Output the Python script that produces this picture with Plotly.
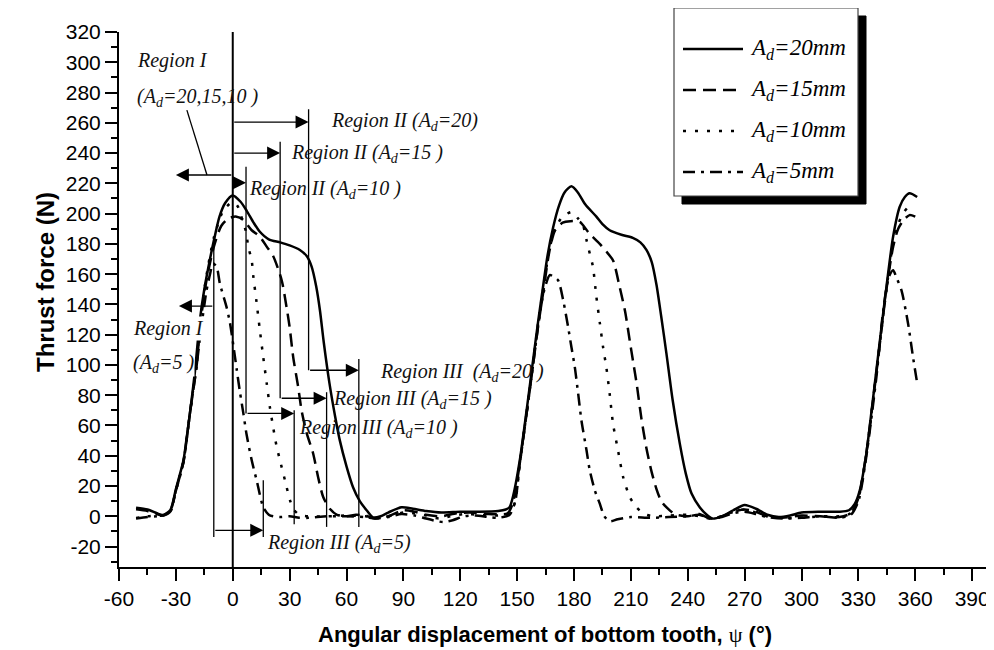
import plotly.graph_objects as go

# ---------------- data ----------------
x_tick_vals = [-60, -30, 0, 30, 60, 90, 120, 150, 180, 210, 240, 270, 300, 330, 360, 390]
x_tick_text = ["-60", "-30", "0", "30", "60", "90", "120", "150", "180", "210", "240",
               "270", "300", "330", "360", "390"]
y_tick_vals = [-20, 0, 20, 40, 60, 80, 100, 120, 140, 160, 180, 200, 220, 240, 260, 280, 300, 320]
y_tick_text = ["-20", "0", "20", "40", "60", "80", "100", "120", "140", "160", "180", "200",
               "220", "240", "260", "280", "300", "320"]

# A_d = 20 mm (solid)
x20 = [-51, -45, -40, -37, -33, -30, -26, -24.3, -22.6, -20, -17.3, -15, -12, -10, -7, -4, 0, 4,
       7.3, 11, 14.3, 19, 25, 30, 35.4, 39, 41.6, 44, 46, 48, 51, 54, 56.5, 60, 63.5, 67, 70.6,
       74, 78, 82, 89, 95, 102, 110, 120, 130, 140, 144, 146, 148, 151.4, 155, 158.4, 161,
       163.7, 166, 169, 172, 175, 178.6, 182, 186, 191.8, 195, 198.8, 205, 211, 215, 218.2,
       221, 223.5, 226, 228.7, 232, 235.8, 239, 242, 246.3, 250, 253, 258, 264, 270, 276, 282,
       288, 294, 300, 310, 320, 325, 328, 330.7, 334.2, 336.5, 339.5, 342, 344.8, 348.3, 351.8,
       354.5, 357, 361]
y20 = [5.7, 4.5, 2, 0.8, 4, 18, 37, 52, 68, 95, 130, 150, 170, 182, 198, 207, 212, 208,
       202, 194, 188, 183, 181, 179, 176, 172, 165, 152, 136, 115, 88, 66, 50, 33, 19, 10, 4,
       -0.7, 0, 2.5, 6, 5, 3.5, 2.5, 3, 3, 3.5, 4.5, 6, 14, 37, 70, 103, 128,
       152, 172, 191, 205, 214, 218, 214, 206, 198, 193, 189, 186, 184, 181, 176,
       168, 153, 132, 108, 77, 48, 28, 15, 6, 1, -1.5, 0, 4, 7.5, 5, 1,
       -0.5, 0.5, 2.5, 3, 3, 4, 8, 17, 41.6, 65, 96.5, 123, 151.6, 184.7, 204.5,
       211, 213.4, 211]

# A_d = 15 mm (dashed)
x15 = [-51, -45, -40, -37, -33, -30, -26, -22.6, -19, -17.3, -14, -10, -6, -2, 2, 5.4, 10, 14.3,
       18, 21.3, 25.8, 28.4, 30, 31.9, 34.5, 36.3, 39, 42.4, 45, 47.7, 51.2, 55, 60, 65, 70, 75,
       82, 90, 96, 102, 110, 118, 125, 135, 145, 148, 151.4, 155, 158.4, 161, 164, 167, 170,
       174, 178, 183, 188, 193.6, 197, 200.6, 204, 207, 209.4, 211.2, 213, 215.5, 218.2, 221,
       223.5, 226, 228.7, 233, 240, 246, 252, 258, 264, 270, 276, 282, 290, 300, 310, 320, 326,
       330, 334, 339.5, 344.8, 348.3, 351, 354, 357, 360]
y15 = [4.6, 3.5, 1.5, 0.5, 3.5, 17, 36, 68, 100, 125, 155, 178, 192, 197, 198, 196, 189, 184.7,
       178, 172, 156, 138, 125, 105, 85.5, 70, 55, 41.5, 26, 12.8, 5, 1, 0, 1, 0.5, -1.5,
       0, 4, 3, 1, 0, 2, 2.5, 1.5, 2, 10, 35, 68, 100, 125, 150, 175, 189,
       194, 195, 194.6, 187, 180, 175, 169, 152, 135, 116, 102, 88, 65, 45, 29,
       18, 10, 6, 1.5, 0, 1.5, -1.5, 0, 3, 4.5, 3, 0, -1, 0.5, 0, -0.5, 2,
       12, 40, 95, 150, 178, 190, 196, 199, 198]

# A_d = 10 mm (dotted)
x10 = [-51, -45, -40, -37, -33, -30, -26, -22.6, -19, -17.3, -14, -10, -5, -1, 1.2, 3, 5, 7, 8.2,
       10, 10.8, 12.6, 14.3, 16.1, 17.9, 19.6, 21.3, 23, 24.9, 27.5, 30.2, 31.9, 35, 40, 50, 60,
       70, 75, 82, 90, 96, 102, 109, 115, 122, 130, 140, 146, 149, 151.4, 155, 158.4, 161, 164,
       167, 170, 174, 178.9, 182, 184.7, 186.6, 188.3, 190, 191.8, 193.6, 195.3, 197.1, 198.8,
       200.6, 203.2, 205.9, 209.4, 212.9, 217, 222, 230, 240, 246, 252, 258, 264, 270, 276, 282,
       290, 300, 310, 320, 326, 330, 334, 339.5, 344.8, 348, 351, 353.5, 356, 359]
y10 = [-1.1, 0, 0.5, 0.5, 3, 17, 36, 68, 102, 127, 158, 184, 202, 207, 207, 204, 196, 188, 178,
       169, 159, 141, 123, 105, 88, 72, 59, 47, 37, 24, 10.6, 5, 1, 0, 0, 0.5,
       0, -1, 0, 2.5, 2, 0.5, -1.5, 0, 1.5, 1, 0.5, 2, 10, 35, 68, 101, 127, 152,
       176, 190, 198, 201, 197, 192.4, 182.5, 173.7, 164.8, 145, 128, 112, 98, 81,
       61, 43.6, 26, 12.8, 6, 1.5, 0, 0.5, 1, 0, -1.5, 0, 3, 4.5, 2.5, 0,
       -1, -1, 0, 0, 2, 12, 40, 95, 150, 178, 193, 200, 204, 206.7]

# A_d = 5 mm (dash-dot)
x5 = [-51, -45, -40, -37, -33, -30, -26, -22.6, -19, -17.3, -14, -12, -10.4, -8.5, -6.8, -3.3,
      -1.5, 0.3, 2.1, 3.8, 5.6, 7.3, 10, 12.6, 16.1, 19, 21.3, 25, 30, 35, 40, 50, 60, 70, 75,
      82, 89, 96, 102, 107, 111, 116, 122, 128, 135, 140, 146, 149, 151.4, 155, 158.4, 161, 164,
      167.2, 169, 171.6, 174.3, 176.9, 178.6, 180.4, 182.2, 183.9, 186.6, 188.3, 191, 193.6,
      196, 199, 203, 210, 220, 230, 240, 246, 252, 258, 264, 270, 276, 282, 290, 300, 310, 320,
      326, 330, 334, 339.5, 343, 346, 348.3, 350, 352.7, 356.2, 358.8, 360.9]
y5 = [-1.5, -0.5, 0, 0.3, 3, 17, 36, 68, 100, 118, 148, 160, 167, 164.8, 153.8, 138.4,
      128, 113, 97, 82, 68, 54, 37, 23.8, 6, 1, 0, -0.5, 0, -1, -1, 0, 0, -0.5, -1.5,
      -0.5, 1.5, 0.5, -1.5, -3, -3.8, -2.6, 0, 0.5, -0.5, -1, 1, 10, 35, 68, 100, 125, 148,
      159.4, 158.5, 156, 142.8, 125, 112, 98.7, 81, 63.5, 43.6, 30.4, 17, 8.4,
      0, -3.3, -2, -0.5, -1, -0.5, 0, 1, -1.5, -0.5, 2, 3, 1.5, -0.5, -1.5, -1, 0, -1,
      1, 10, 38, 92, 135, 158, 162.6, 158, 149.4, 127.4, 105.3, 88.8]

series_names = ["A<sub>d</sub>=20mm", "A<sub>d</sub>=15mm", "A<sub>d</sub>=10mm", "A<sub>d</sub>=5mm"]

# ---------------- layout constants ----------------
# the page places the figure 8px from the top-left corner of the window
OFF = 8
W, H = 994 - OFF, 650 - OFF
ML, MR, MT, MB = 119 - OFF, 1, 32 - OFF, 83
PW = W - ML - MR
PH = H - MT - MB
X_RANGE = [-60, 401]
Y_RANGE = [-33.5, 320]


def px(xp):
    """window pixel x -> paper fraction"""
    return (xp - OFF - ML) / PW


def py(yp):
    """window pixel y -> paper fraction"""
    return (H - MB - (yp - OFF)) / PH


dashes = ["solid", "13px,7px", "3px,9px", "12px,6px,3px,6px"]
xs = [x20, x15, x10, x5]
ys = [y20, y15, y10, y5]

fig = go.Figure()
for name, xv, yv, dash in zip(series_names, xs, ys, dashes):
    fig.add_trace(go.Scatter(x=xv, y=yv, mode="lines", name=name,
                             line=dict(color="black", width=2.5, dash=dash,
                                       shape="spline", smoothing=0.7),
                             showlegend=False, hoverinfo="skip"))

shapes = []
annotations = []
SERIF = "Liberation Serif"
SANS = "Liberation Sans"

# vertical reference line at psi = 0
shapes.append(dict(type="line", xref="x", yref="y", x0=0, x1=0, y0=Y_RANGE[0], y1=Y_RANGE[1],
                   line=dict(color="black", width=2)))

# thin vertical region boundary lines: (x, y_top, y_bottom)
vlines = [(40, 269, 96.5), (25, 247.5, 78), (7, 231, 68), (66.5, 104, -7), (49.5, 82, -7),
          (32.4, 70, -5.3), (-10, 181, -13.7), (16.1, 23.8, -13.7)]
for xv, y0, y1 in vlines:
    shapes.append(dict(type="line", xref="x", yref="y", x0=xv, x1=xv, y0=y0, y1=y1,
                       line=dict(color="black", width=1.3)))

# leader line of "Region I (Ad=20,15,10)"
shapes.append(dict(type="line", xref="x", yref="y", x0=-24.2, y0=268.4, x1=-13.6, y1=225.5,
                   line=dict(color="black", width=1.3)))

# arrows: (x_start, x_end, y)
arrows = [(0, -30, 225.5), (0, 40, 260.5), (0, 25, 240), (0, 7, 220.4), (-10, -28.4, 138.9),
          (40, 66.5, 96.5), (25, 49.5, 78), (7, 32.4, 68), (-10, 16.1, -9.3)]
for xs0, xs1, yv in arrows:
    annotations.append(dict(x=xs1, y=yv, ax=xs0, ay=yv, xref="x", yref="y", axref="x", ayref="y",
                            text="", showarrow=True, arrowhead=2, arrowsize=2, arrowwidth=1.3,
                            arrowcolor="black", standoff=0, startstandoff=0))

# region labels: (x, y, text, white background)
labels = [
    (-51, 301, "Region I", False),
    (-51, 277, "(A<sub>d</sub>=20,15,10 )", False),
    (51.2, 261, "Region II (A<sub>d</sub>=20)", False),
    (30.2, 240, "Region II (A<sub>d</sub>=15 )", False),
    (8, 216, "Region II (A<sub>d</sub>=10 )", False),
    (-53.1, 124, "Region I", True),
    (-53.1, 101, "(A<sub>d</sub>=5 )", True),
    (77, 95, "Region III  (A<sub>d</sub>=20 )", False),
    (52.1, 77, "Region III (A<sub>d</sub>=15 )", False),
    (34.4, 58, "Region III (A<sub>d</sub>=10 )", False),
    (17.3, -18, "Region III (A<sub>d</sub>=5)", False),
]
for xv, yv, txt, bg in labels:
    annotations.append(dict(x=xv, y=yv, xref="x", yref="y", text="<i>" + txt + "</i>",
                            showarrow=False, xanchor="left", yanchor="middle",
                            font=dict(family=SERIF, size=20, color="#111111"),
                            bgcolor="white" if bg else None, borderpad=0))

# ---------------- hand-drawn legend box ----------------
LB = dict(x0=674, x1=858, y0=8, y1=196)
SH = 8
shapes.append(dict(type="rect", xref="paper", yref="paper",
                   x0=px(LB["x0"] + SH), x1=px(LB["x1"] + SH), y0=py(LB["y1"] + SH), y1=py(LB["y0"] + SH),
                   fillcolor="black", line=dict(color="black", width=1)))
shapes.append(dict(type="rect", xref="paper", yref="paper",
                   x0=px(LB["x0"]), x1=px(LB["x1"]), y0=py(LB["y1"]), y1=py(LB["y0"]),
                   fillcolor="white", line=dict(color="#444444", width=1.2)))
rows = [49, 90, 131, 172]
for name, dash, ry in zip(series_names, dashes, rows):
    shapes.append(dict(type="line", xref="paper", yref="paper", x0=px(683), x1=px(743),
                       y0=py(ry), y1=py(ry), line=dict(color="black", width=2.5, dash=dash)))
    annotations.append(dict(x=px(748), y=py(ry), xref="paper", yref="paper",
                            text="<i>" + name + "</i>", showarrow=False, xanchor="left",
                            yanchor="middle", font=dict(family=SERIF, size=23, color="black")))

# ---------------- axis titles ----------------
annotations.append(dict(x=px(545), y=py(634), xref="paper", yref="paper", showarrow=False,
                        xanchor="center", yanchor="middle",
                        text="<b>Angular displacement of bottom tooth, </b>"
                             "<span style=\"font-family:'Liberation Serif'\">ψ</span><b> (°)</b>",
                        font=dict(family=SANS, size=22, color="black")))
annotations.append(dict(x=px(45), y=py(282), xref="paper", yref="paper", showarrow=False,
                        xanchor="center", yanchor="middle", textangle=-90,
                        text="<b>Thrust force (N)</b>",
                        font=dict(family=SANS, size=24, color="black")))

axis_common = dict(showline=True, linecolor="black", linewidth=2, showgrid=False, zeroline=False,
                   ticks="outside", ticklen=12, tickwidth=2, tickcolor="black",
                   tickfont=dict(family=SANS, size=21, color="black"), tickmode="array")

fig.update_layout(
    width=W, height=H, margin=dict(l=ML, r=MR, t=MT, b=MB, pad=0),
    paper_bgcolor="white", plot_bgcolor="white", showlegend=False,
    xaxis=dict(range=X_RANGE, tickvals=x_tick_vals, ticktext=x_tick_text,
               minor=dict(tickmode="linear", tick0=-45, dtick=30, ticks="outside", ticklen=6,
                          tickwidth=1.5, tickcolor="black"),
               **axis_common),
    yaxis=dict(range=Y_RANGE, tickvals=y_tick_vals, ticktext=y_tick_text,
               minor=dict(tickmode="linear", tick0=-30, dtick=20, ticks="outside", ticklen=6,
                          tickwidth=1.5, tickcolor="black"),
               **axis_common),
    shapes=shapes, annotations=annotations,
)

fig.write_html("out.html")
